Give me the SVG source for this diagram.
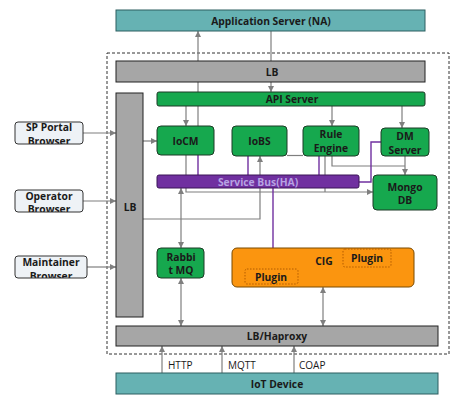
<svg xmlns="http://www.w3.org/2000/svg" width="457" height="400" viewBox="0 0 457 400">
<defs>
<marker id="ah" markerUnits="userSpaceOnUse" markerWidth="7" markerHeight="7" refX="6" refY="3" orient="auto-start-reverse"><path d="M0,0 L6,3 L0,6 z" fill="#7f7f7f"/></marker>
<clipPath id="c1"><rect x="15" y="122" width="68" height="22" rx="3"/></clipPath>
<clipPath id="c2"><rect x="15" y="190" width="68" height="22" rx="3"/></clipPath>
<clipPath id="c3"><rect x="15" y="256" width="72" height="22" rx="3"/></clipPath>
<style>
text{font-family:"Open Sans","Noto Sans","Liberation Sans",sans-serif;font-weight:700;font-size:10.3px;fill:#1a1a1a;text-anchor:middle}
.g{fill:#a6a6a6;stroke:#222;stroke-width:1}
.gr{fill:#16a84e;stroke:#1d3b26;stroke-width:1}
.tl{fill:#66b2b3;stroke:#2c5f60;stroke-width:1}
.br{fill:#eef2f6}
.brs{fill:none;stroke:#333;stroke-width:1}
.c{fill:none;stroke:#7f7f7f;stroke-width:1.2}
.a{marker-end:url(#ah)}
.b{marker-start:url(#ah);marker-end:url(#ah)}
.p{fill:none;stroke:#7030a0;stroke-width:1.4}
.pl{fill:none;stroke:#b35c00;stroke-width:1;stroke-dasharray:1.5,1.5}
.n{font-weight:400;text-anchor:start;font-size:10px}
</style>
</defs>
<rect width="457" height="400" fill="#fff"/>
<rect x="107" y="53" width="342" height="301" fill="none" stroke="#333" stroke-width="1" stroke-dasharray="3,2"/>
<g id="connectors">
<path class="c a" d="M271,31 V92"/>
<path class="c a" d="M198,126 V31"/>
<path class="c a" d="M186,106 V126"/>
<path class="c a" d="M332,106 V126"/>
<path class="c a" d="M402,106 V128"/>
<path class="c a" d="M143,141 H157"/>
<path class="c a" d="M143,219 H260 V156"/>
<path class="c a" d="M186,155 V192 H373"/>
<path class="c" d="M325,156 V192"/>
<path class="c" d="M332,156 V166 H405"/>
<path class="c a" d="M405,156 V175"/>
<path class="c" d="M287,155.5 H303"/>
<path class="c a" d="M83,133 H116"/>
<path class="c a" d="M83,201 H116"/>
<path class="c a" d="M87,267 H116"/>
<path class="c b" d="M181,188 V248"/>
<path class="c b" d="M181,278 V326"/>
<path class="c b" d="M323,287 V326"/>
<path class="c a" d="M162,373 V346"/>
<path class="c a" d="M222,373 V346"/>
<path class="c a" d="M294,373 V346"/>
<path class="p" d="M198,155 V175"/>
<path class="p" d="M248,156 V175"/>
<path class="p" d="M319,156 V175"/>
<path class="p" d="M359,182 H371 V142 H381"/>
<path class="p" d="M273,188 V248"/>
<text class="n" x="168" y="369">HTTP</text>
<text class="n" x="228" y="369">MQTT</text>
<text class="n" x="299" y="369">COAP</text>
</g>
<g id="app-server"><rect class="tl" x="116" y="10" width="309" height="21"/><text x="271" y="24.5">Application Server (NA)</text></g>
<g id="lb-top"><rect class="g" x="116" y="61" width="309" height="21"/><text x="272" y="75.5">LB</text></g>
<g id="api-server"><rect class="gr" x="157" y="92" width="268" height="14" rx="2"/><text x="292" y="103">API Server</text></g>
<g id="lb-left"><rect class="g" x="116" y="93" width="27" height="224"/><text x="130" y="211">LB</text></g>
<g id="iocm"><rect class="gr" x="157" y="126" width="57" height="29" rx="4"/><text x="185.5" y="144.5">IoCM</text></g>
<g id="iobs"><rect class="gr" x="232" y="126" width="55" height="30" rx="4"/><text x="259.5" y="145">IoBS</text></g>
<g id="rule-engine"><rect class="gr" x="303" y="126" width="56" height="30" rx="4"/><text x="331" y="138">Rule</text><text x="331" y="152">Engine</text></g>
<g id="dm-server"><rect class="gr" x="381" y="128" width="48" height="28" rx="4"/><text x="405" y="140">DM</text><text x="405" y="154">Server</text></g>
<g id="mongo-db"><rect class="gr" x="373" y="175" width="64" height="35" rx="4"/><text x="405" y="191">Mongo</text><text x="405" y="204">DB</text></g>
<g id="service-bus"><rect x="157" y="175" width="202" height="13" rx="2" fill="#7030a0" stroke="#3b1557" stroke-width="1"/><text x="258" y="185.5" style="fill:#b7a2e3">Service Bus(HA)</text></g>
<g id="rabbitmq"><rect class="gr" x="157" y="248" width="47" height="30" rx="4"/><text x="181" y="260.5">Rabbi</text><text x="181" y="274">t MQ</text></g>
<g id="cig"><rect x="232" y="248" width="182" height="39" rx="5" fill="#fb950f" stroke="#7a4a00" stroke-width="1"/><text x="324" y="265">CIG</text>
<rect class="pl" x="343" y="249" width="48" height="18" rx="2"/><text x="367" y="261.5">Plugin</text>
<rect class="pl" x="245" y="269" width="53" height="15" rx="2"/><text x="271" y="280.5">Plugin</text></g>
<g id="lb-haproxy"><rect class="g" x="116" y="326" width="322" height="20"/><text x="277" y="340">LB/Haproxy</text></g>
<g id="iot-device"><rect class="tl" x="116" y="373" width="322" height="21"/><text x="277" y="388">IoT Device</text></g>
<g id="sp-portal"><rect class="br" x="15" y="122" width="68" height="22" rx="3"/><g clip-path="url(#c1)"><text x="49" y="131">SP Portal</text><text x="49" y="145">Browser</text></g><rect class="brs" x="15" y="122" width="68" height="22" rx="3"/></g>
<g id="operator"><rect class="br" x="15" y="190" width="68" height="22" rx="3"/><g clip-path="url(#c2)"><text x="49" y="199.5">Operator</text><text x="49" y="213">Browser</text></g><rect class="brs" x="15" y="190" width="68" height="22" rx="3"/></g>
<g id="maintainer"><rect class="br" x="15" y="256" width="72" height="22" rx="3"/><g clip-path="url(#c3)"><text x="51" y="266">Maintainer</text><text x="51" y="280">Browser</text></g><rect class="brs" x="15" y="256" width="72" height="22" rx="3"/></g>
</svg>
